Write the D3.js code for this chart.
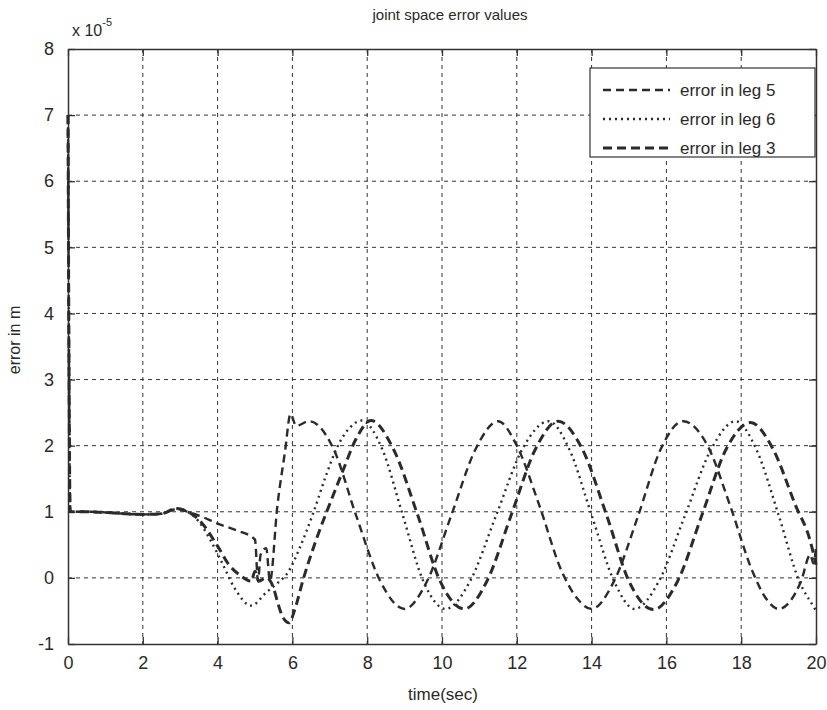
<!DOCTYPE html>
<html>
<head>
<meta charset="utf-8">
<script src="https://cdn.jsdelivr.net/npm/d3@7"></script>
<style>
  body { margin: 0; background: #fff; }
  text { font-family: "Liberation Sans", Arial, sans-serif; fill: #2a2a2a; }
</style>
</head>
<body>
<svg id="viz" width="827" height="710"></svg>
<script>
// values (error x 1e-5 m)
var tLeg5 = [0, 0.06, 0.5, 1, 1.5, 2, 2.5, 2.9, 3.2, 3.6, 4.0, 4.5, 5.0, 5.08, 5.15, 5.3, 5.4, 5.6, 5.8, 5.95, 6.1, 6.45, 7.1, 7.7, 8.35, 9.0, 9.6, 10.25, 10.9, 11.5, 12.0, 12.6, 13.2, 13.6, 14.0, 14.6, 15.25, 15.85, 16.45, 17.1, 17.7, 18.3, 18.65, 19.0, 19.6, 19.85, 19.93, 20];
var eLeg5 = [7.0, 1.0, 1.0, 0.99, 0.97, 0.96, 0.97, 1.04, 1.0, 0.92, 0.82, 0.72, 0.58, -0.05, 0.35, 0.45, -0.05, 1.1, 1.9, 2.48, 2.3, 2.37, 1.95, 0.95, -0.05, -0.47, -0.05, 0.95, 1.95, 2.37, 2.0, 1.1, 0.1, -0.3, -0.47, -0.05, 0.95, 1.95, 2.37, 2.0, 1.1, 0.1, -0.3, -0.47, -0.05, 0.35, 0.22, 0.45];

var tLeg6 = [0, 0.06, 0.5, 1, 1.5, 2, 2.5, 2.9, 3.2, 3.5, 3.8, 4.1, 4.45, 4.9, 5.3, 5.6, 5.9, 6.2, 6.55, 6.9, 7.2, 7.55, 7.85, 8.4, 8.95, 9.5, 10.1, 10.75, 11.45, 12.15, 12.85, 13.4, 14.0, 14.6, 15.15, 15.8, 16.5, 17.2, 17.85, 18.4, 19.0, 19.55, 19.95, 20];
var eLeg6 = [7.0, 1.0, 1.0, 0.99, 0.97, 0.96, 0.97, 1.05, 1.0, 0.85, 0.58, 0.25, -0.15, -0.42, -0.22, -0.08, 0.1, 0.46, 0.97, 1.55, 1.98, 2.28, 2.38, 1.95, 0.95, -0.05, -0.47, -0.05, 0.95, 1.95, 2.37, 1.95, 0.95, -0.05, -0.47, -0.05, 0.95, 1.95, 2.37, 1.95, 0.95, -0.05, -0.45, -0.5];

var tLeg3 = [0, 0.06, 0.5, 1, 1.5, 2, 2.5, 2.9, 3.2, 3.5, 4.0, 4.3, 4.6, 4.9, 5.0, 5.1, 5.3, 5.5, 5.6, 5.75, 5.92, 6.05, 6.3, 6.65, 7.0, 7.35, 7.7, 8.1, 8.7, 9.35, 9.95, 10.6, 11.2, 11.85, 12.5, 13.1, 13.75, 14.4, 15.0, 15.65, 16.3, 16.95, 17.6, 18.25, 18.85, 19.45, 19.85, 20];
var eLeg3 = [7.0, 1.0, 1.0, 0.99, 0.97, 0.96, 0.97, 1.05, 1.0, 0.88, 0.48, 0.2, 0.04, -0.05, 0.1, -0.05, 0.0, -0.16, -0.36, -0.6, -0.68, -0.5, 0.0, 0.6, 1.12, 1.62, 2.1, 2.38, 1.95, 0.95, -0.05, -0.47, -0.05, 0.95, 1.95, 2.37, 1.95, 0.95, -0.05, -0.48, -0.05, 0.95, 1.95, 2.35, 1.95, 1.1, 0.55, 0.2];

var xTicks = [0, 2, 4, 6, 8, 10, 12, 14, 16, 18, 20];
var yTicks = [-1, 0, 1, 2, 3, 4, 5, 6, 7, 8];
var legendLabels = ["error in leg 5", "error in leg 6", "error in leg 3"];

var svg = d3.select("#viz");
var margin = { top: 49, right: 11, bottom: 66, left: 68 };
var width = 827 - margin.left - margin.right,
    height = 710 - margin.top - margin.bottom;

var x = d3.scaleLinear().domain([0, 20]).range([0, width]);
var y = d3.scaleLinear().domain([-1, 8]).range([height, 0]);
var plain = function (d) { return String(d); };  // hyphen minus, like matlab

var g = svg.append("g")
    .attr("transform", "translate(" + margin.left + "," + margin.top + ")");

// grid
g.append("g").selectAll("line").data(xTicks.slice(1, -1)).enter().append("line")
    .attr("x1", function (d) { return x(d); }).attr("x2", function (d) { return x(d); })
    .attr("y1", 0).attr("y2", height)
    .attr("stroke", "#333").attr("stroke-width", 1).attr("stroke-dasharray", "4,4");
g.append("g").selectAll("line").data(yTicks.slice(1, -1)).enter().append("line")
    .attr("y1", function (d) { return y(d); }).attr("y2", function (d) { return y(d); })
    .attr("x1", 0).attr("x2", width)
    .attr("stroke", "#333").attr("stroke-width", 1).attr("stroke-dasharray", "4,4");

// axes, ticks pointing in like matlab
var axes = [
    { gen: d3.axisBottom(x).tickValues(xTicks).tickSizeInner(-7).tickPadding(12), tr: "translate(0," + height + ")", lab: true },
    { gen: d3.axisLeft(y).tickValues(yTicks).tickSizeInner(-7).tickPadding(14), tr: null, lab: true },
    { gen: d3.axisTop(x).tickValues(xTicks).tickSizeInner(-7), tr: null, lab: false },
    { gen: d3.axisRight(y).tickValues(yTicks).tickSizeInner(-7), tr: "translate(" + width + ",0)", lab: false }
];
axes.forEach(function (a) {
    var ax = g.append("g").call(a.gen.tickSizeOuter(0).tickFormat(plain));
    if (a.tr) ax.attr("transform", a.tr);
    ax.select(".domain").attr("stroke", "#333").attr("stroke-width", 1.5);
    ax.selectAll(".tick line").attr("stroke", "#333").attr("stroke-width", 1.3);
    ax.selectAll(".tick text")
        .style("font-family", "'Liberation Sans', Arial, sans-serif")
        .style("font-size", "18px").attr("fill", "#2a2a2a");
    if (!a.lab) ax.selectAll(".tick text").remove();
});

// series
var series = [
    { t: tLeg5, e: eLeg5, dash: "8,5", w: 2.4 },
    { t: tLeg6, e: eLeg6, dash: "2,4", w: 2.4 },
    { t: tLeg3, e: eLeg3, dash: "9,5", w: 3 }
];
var line = d3.line()
    .x(function (d) { return x(d[0]); })
    .y(function (d) { return y(d[1]); })
    .curve(d3.curveMonotoneX);

g.selectAll(".series").data(series).enter().append("path")
    .attr("class", "series")
    .attr("d", function (s) { return line(d3.zip(s.t, s.e)); })
    .attr("fill", "none")
    .attr("stroke", "#2b2b2b")
    .attr("stroke-width", function (s) { return s.w; })
    .attr("stroke-dasharray", function (s) { return s.dash; });

// legend
var leg = g.append("g").attr("transform", "translate(" + (590 - margin.left) + "," + (68 - margin.top) + ")");
leg.append("rect").attr("width", 225).attr("height", 89)
    .attr("fill", "#fff").attr("stroke", "#333").attr("stroke-width", 1.2);
var rows = leg.selectAll(".row").data(series).enter().append("g")
    .attr("transform", function (d, i) { return "translate(0," + (22 + i * 29) + ")"; });
rows.append("line").attr("x1", 13).attr("x2", 80).attr("y1", 0).attr("y2", 0)
    .attr("stroke", "#2b2b2b")
    .attr("stroke-width", function (s) { return s.w; })
    .attr("stroke-dasharray", function (s) { return s.dash; });
rows.append("text").attr("x", 90).attr("y", 6)
    .style("font-size", "17px")
    .text(function (d, i) { return legendLabels[i]; });

// titles
svg.append("text").attr("x", 450).attr("y", 20).attr("text-anchor", "middle")
    .style("font-size", "15px").text("joint space error values");
svg.append("text").attr("x", 443).attr("y", 700).attr("text-anchor", "middle")
    .style("font-size", "17px").text("time(sec)");
svg.append("text").attr("transform", "translate(20,340) rotate(-90)").attr("text-anchor", "middle")
    .style("font-size", "16px").text("error in m");
var ex = svg.append("text").attr("x", 72).attr("y", 36).style("font-size", "16px");
ex.append("tspan").text("x 10");
ex.append("tspan").attr("dy", -10).style("font-size", "11px").text("-5");
</script>
</body>
</html>
